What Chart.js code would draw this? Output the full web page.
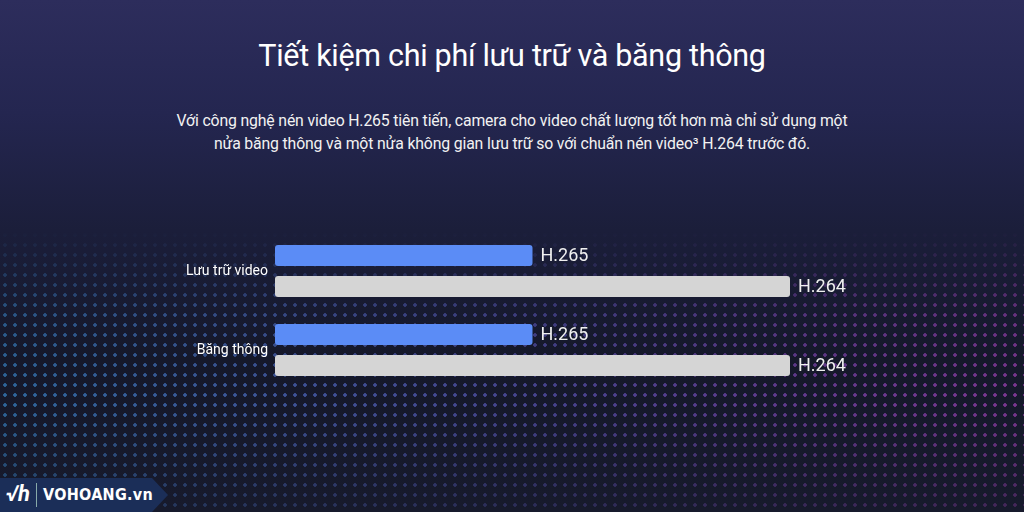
<!DOCTYPE html>
<html>
<head>
<meta charset="utf-8">
<script src="https://cdn.jsdelivr.net/npm/chart.js@4.4.0/dist/chart.umd.min.js"></script>
<style>
  html,body{margin:0;padding:0;}
  body{width:1024px;height:512px;overflow:hidden;position:relative;
    background:linear-gradient(180deg,#2d2d5c 0%,#242650 22%,#1b1e3a 45%,#15182a 70%,#171a2c 100%);
    font-family:Roboto,"Noto Sans",sans-serif;}
  #dots{position:absolute;left:0;top:0;width:1024px;height:512px;
    background:linear-gradient(90deg,#3f9be8 0%,#5b79e0 30%,#6a5fd0 55%,#9a4fd0 80%,#c24bd6 100%);
    -webkit-mask-image:radial-gradient(circle,#000 1.5px,transparent 2.1px),linear-gradient(180deg,transparent 0%,transparent 45%,rgba(0,0,0,.6) 62%,rgba(0,0,0,.75) 78%,rgba(0,0,0,.3) 100%);
    -webkit-mask-size:10px 10px,100% 100%;
    -webkit-mask-composite:source-in;
    mask-composite:intersect;opacity:.8;}
  #title{position:absolute;left:0;width:1024px;top:38px;text-align:center;color:#fff;font-size:30.5px;letter-spacing:-0.3px;}
  #sub{position:absolute;left:0;width:1024px;top:109px;text-align:center;color:#f2f2f2;font-size:15.8px;line-height:23px;letter-spacing:-0.15px;}
  #chartwrap{position:absolute;left:0;top:0;width:1024px;height:512px;}
  #logo{position:absolute;left:0;top:478px;height:34px;width:168px;background:#1b2e58;
    clip-path:polygon(0 0,152px 0,168px 17px,152px 34px,0 34px);color:#fff;}
  #logo .mk{position:absolute;left:6px;top:3px;font-size:22px;font-weight:bold;font-style:italic;}
  #logo .sep{position:absolute;left:36px;top:5px;width:1px;height:24px;background:#8aa;}
  #logo .tx{position:absolute;left:43px;top:7px;font-size:16px;font-weight:bold;letter-spacing:0.3px;font-family:"DejaVu Sans Condensed","Liberation Sans Narrow",sans-serif;}
</style>
</head>
<body>
<div id="dots"></div>
<div id="title">Tiết kiệm chi phí lưu trữ và băng thông</div>
<div id="sub">Với công nghệ nén video H.265 tiên tiến, camera cho video chất lượng tốt hơn mà chỉ sử dụng một<br>nửa băng thông và một nửa không gian lưu trữ so với chuẩn nén video³ H.264 trước đó.</div>
<div id="chartwrap"><canvas id="c" width="1024" height="512"></canvas></div>
<div id="logo"><span class="mk">√h</span><span class="sep"></span><span class="tx">VOHOANG.vn</span></div>
<script>
const categories = ["Lưu trữ video", "Băng thông"];
const seriesNames = ["H.265", "H.264"];
const h265Values = [50, 50];
const h264Values = [100, 100];

const barLabels = {
  id: 'barLabels',
  afterDatasetsDraw(chart) {
    const ctx = chart.ctx;
    ctx.save();
    ctx.font = '18px Roboto, sans-serif';
    ctx.fillStyle = '#f0f0f0';
    ctx.textBaseline = 'middle';
    ctx.textAlign = 'left';
    chart.data.datasets.forEach((ds, i) => {
      chart.getDatasetMeta(i).data.forEach(el => {
        ctx.fillText(ds.label, el.x + 8, el.y + 1);
      });
    });
    ctx.restore();
  }
};

new Chart(document.getElementById('c'), {
  type: 'bar',
  data: {
    labels: categories,
    datasets: [
      {label: seriesNames[0], data: h265Values, backgroundColor: '#5b8cf6', borderRadius: 3, borderSkipped: false},
      {label: seriesNames[1], data: h264Values, backgroundColor: '#d5d5d5', borderRadius: 3, borderSkipped: false}
    ]
  },
  options: {
    indexAxis: 'y',
    responsive: false,
    animation: false,
    events: [],
    layout: {padding: {left: 0, right: 234, top: 231.5, bottom: 122.5}},
    datasets: {bar: {barPercentage: 0.677, categoryPercentage: 0.785}},
    plugins: {legend: {display: false}, tooltip: {enabled: false}},
    scales: {
      x: {display: false, min: 0, max: 100},
      y: {
        grid: {display: false, drawTicks: false, tickLength: 0},
        border: {display: false},
        afterFit: s => { s.width = 275; },
        ticks: {color: '#ffffff', padding: 7, font: {size: 14, family: 'Roboto'}}
      }
    }
  },
  plugins: [barLabels]
});
</script>
</body>
</html>
